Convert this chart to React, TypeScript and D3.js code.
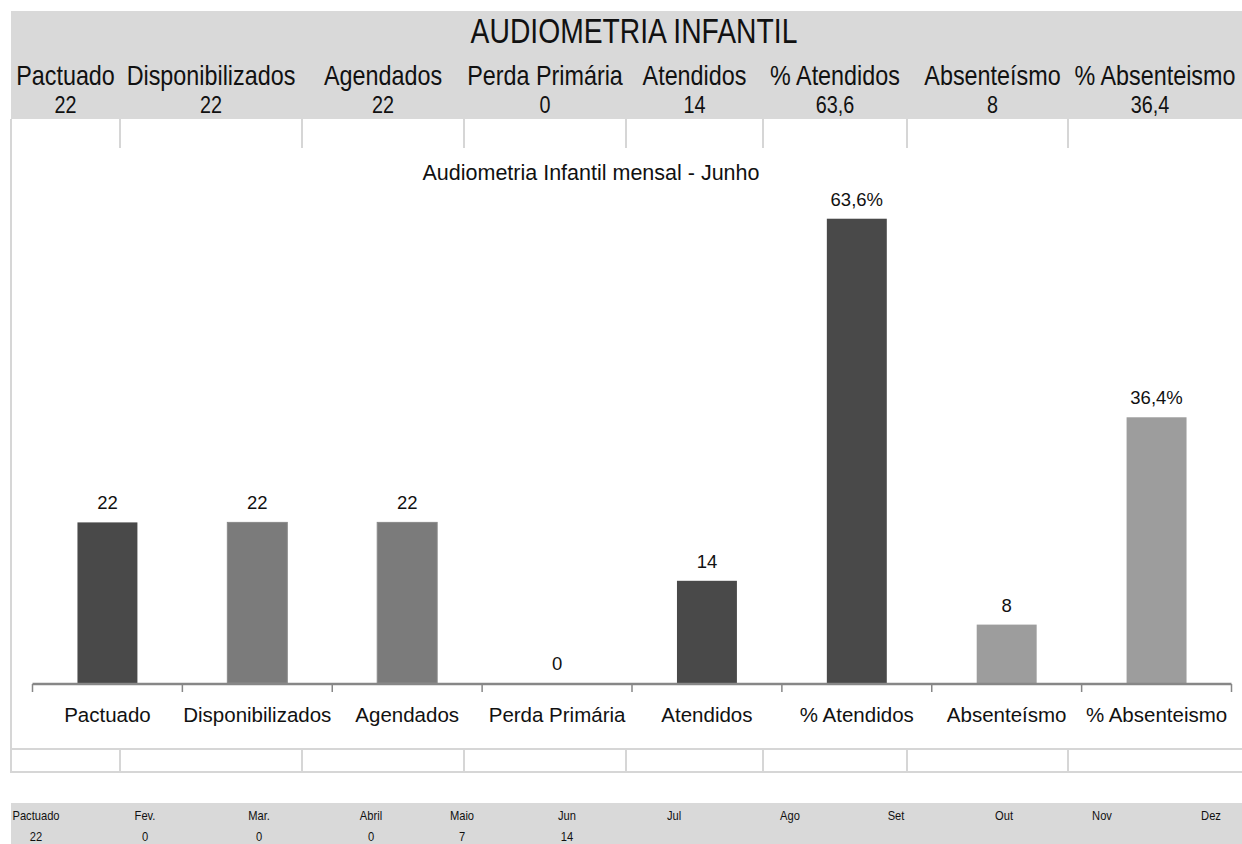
import * as d3 from "d3";

const title = "AUDIOMETRIA INFANTIL";
const subtitle = "Audiometria Infantil mensal - Junho";

const categories = [
  "Pactuado",
  "Disponibilizados",
  "Agendados",
  "Perda Primária",
  "Atendidos",
  "% Atendidos",
  "Absenteísmo",
  "% Absenteismo",
];
const headerValues = ["22", "22", "22", "0", "14", "63,6", "8", "36,4"];
const barValues = [22, 22, 22, 0, 14, 63.6, 8, 36.4];
const barLabels = ["22", "22", "22", "0", "14", "63,6%", "8", "36,4%"];

const months = ["Pactuado", "Fev.", "Mar.", "Abril", "Maio", "Jun", "Jul", "Ago", "Set", "Out", "Nov", "Dez"];
const monthValues = ["22", "0", "0", "0", "7", "14", "", "", "", "", "", ""];

// layout (sheet columns)
const headerEdges = [11, 120, 302, 464, 626, 763, 907, 1068, 1242];
const monthCenters = [36, 145, 259, 371, 462, 567, 674, 790, 896, 1004, 1102, 1211];

const W = 1242;
const H = 844;
const SANS = "'Liberation Sans', Arial, sans-serif";
const GRID = "#d6d6d6";
const BAND = "#d9d9d9";

const shade = (i: number) => {
  if (i === 1 || i === 2) return "#7b7b7b";
  if (i >= 6) return "#9d9d9d";
  return "#494949";
};

// the sheet cells use a narrow face; squeeze Liberation Sans horizontally
function Narrow({
  x,
  y,
  size,
  sx = 0.82,
  children,
}: {
  x: number;
  y: number;
  size: number;
  sx?: number;
  children: string;
}) {
  return (
    <text
      transform={`translate(${x},${y}) scale(${sx},1)`}
      textAnchor="middle"
      fontFamily={SANS}
      fontSize={size}
      fill="#111"
    >
      {children}
    </text>
  );
}

export default function App() {
  const x = d3.scaleBand<string>().domain(categories).range([32.5, 1231.5]).paddingInner(0.6).paddingOuter(0.3);
  const y = d3.scaleLinear().domain([0, 70]).range([683, 172]);
  const step = x.step();
  const ticks = d3.range(categories.length + 1).map((i) => 32.5 + i * step);

  const monthX = d3.scaleOrdinal<string, number>().domain(months).range(monthCenters);

  return (
    <svg
      width={W}
      height={H}
      style={{ position: "absolute", left: 0, top: 0, background: "#fff" }}
    >
      {/* header band */}
      <rect x={11} y={11} width={W - 11} height={108} fill={BAND} />
      <Narrow x={634} y={43} size={34.5}>
        {title}
      </Narrow>
      {categories.map((c, i) => {
        const cx = (headerEdges[i] + headerEdges[i + 1]) / 2 + (i === 6 ? 5 : 0);
        return (
          <g key={c}>
            <Narrow x={cx} y={85} size={27} sx={0.865}>
              {c}
            </Narrow>
            <Narrow x={cx - (i === 7 ? 5 : 0)} y={113} size={23} sx={0.86}>
              {headerValues[i]}
            </Narrow>
          </g>
        );
      })}

      {/* sheet grid lines */}
      <line x1={11} x2={11} y1={119} y2={773} stroke={GRID} strokeWidth={2} />
      {headerEdges.slice(1, -1).map((e) => (
        <g key={e}>
          <line x1={e} x2={e} y1={119} y2={148} stroke={GRID} strokeWidth={2} />
          <line x1={e} x2={e} y1={749} y2={772} stroke={GRID} strokeWidth={2} />
        </g>
      ))}
      <line x1={11} x2={W} y1={749} y2={749} stroke={GRID} strokeWidth={2} />
      <line x1={11} x2={W} y1={772} y2={772} stroke={GRID} strokeWidth={2} />

      {/* chart */}
      <text x={591} y={180} textAnchor="middle" fontFamily={SANS} fontSize={21.5} fill="#111">
        {subtitle}
      </text>
      {categories.map((c, i) => {
        const bx = x(c) ?? 0;
        const by = y(barValues[i]);
        const mid = bx + x.bandwidth() / 2;
        return (
          <g key={c}>
            {barValues[i] > 0 && (
              <rect
                x={bx}
                y={by}
                width={x.bandwidth()}
                height={y(0) - by}
                fill={shade(i)}
                stroke={i === 1 || i === 2 ? "#8a8a8a" : "none"}
                strokeWidth={1}
              />
            )}
            <text x={mid} y={by - 13} textAnchor="middle" fontFamily={SANS} fontSize={18.5} fill="#111">
              {barLabels[i]}
            </text>
            <text x={mid} y={722} textAnchor="middle" fontFamily={SANS} fontSize={20.5} fill="#111">
              {c}
            </text>
          </g>
        );
      })}
      <line x1={32.5} x2={1231.5} y1={y(0) + 1} y2={y(0) + 1} stroke="#878787" strokeWidth={2.5} />
      {ticks.map((t) => (
        <line key={t} x1={t} x2={t} y1={y(0) + 1} y2={692} stroke="#878787" strokeWidth={1.5} />
      ))}

      {/* monthly band */}
      <rect x={11} y={803} width={W - 11} height={H - 803} fill={BAND} />
      {months.map((m, i) => (
        <g key={m}>
          <Narrow x={monthX(m)} y={820} size={13.6}>
            {m}
          </Narrow>
          <Narrow x={monthX(m)} y={841} size={13.6}>
            {monthValues[i]}
          </Narrow>
        </g>
      ))}
    </svg>
  );
}
